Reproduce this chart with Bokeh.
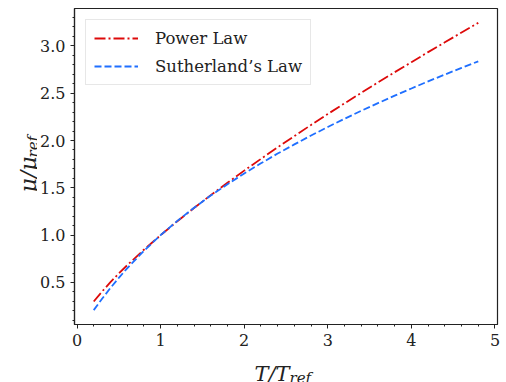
from bokeh.plotting import figure
from bokeh.layouts import column, row
from bokeh.models import (ColumnDataSource, Range1d, SingleIntervalTicker,
                          PrintfTickFormatter, Label, Legend, LegendItem)
from bokeh.embed import file_html
from bokeh.resources import INLINE

# ---- data ----
t_ratio = [0.2, 0.3, 0.4, 0.5, 0.6, 0.8, 1.0, 1.2, 1.4, 1.6, 1.8, 2.0, 2.2, 2.4,
           2.6, 2.8, 3.0, 3.2, 3.4, 3.6, 3.8, 4.0, 4.2, 4.4, 4.6, 4.8]
power_law = [0.299, 0.405, 0.503, 0.595, 0.682, 0.846, 1.000, 1.147, 1.287, 1.423,
             1.554, 1.682, 1.806, 1.928, 2.047, 2.165, 2.280, 2.393, 2.504, 2.614,
             2.722, 2.828, 2.934, 3.038, 3.141, 3.243]
sutherland = [0.208, 0.328, 0.442, 0.549, 0.650, 0.834, 1.000, 1.151, 1.289, 1.418,
              1.538, 1.652, 1.759, 1.862, 1.959, 2.053, 2.143, 2.230, 2.314, 2.395,
              2.474, 2.550, 2.625, 2.697, 2.768, 2.837]
series_names = ["Power Law", "Sutherland\u2019s Law"]
x_label = ("T/T", "ref")
y_label = ("\u03bc/\u03bc", "ref")

src = ColumnDataSource(dict(x=t_ratio, p=power_law, s=sutherland))

FONT = "DejaVu Serif"
INK = "#222222"

YLAB_W = 37
MAIN_W = 506 - YLAB_W
MAIN_H = 352
XLAB_H = 382 - MAIN_H

p = figure(width=MAIN_W, height=MAIN_H, output_backend="svg", toolbar_location=None,
           x_range=Range1d(-0.03, 5.03), y_range=Range1d(0.056, 3.395),
           min_border_left=36, min_border_right=9, min_border_top=8,
           min_border_bottom=28)
p.grid.visible = False
p.background_fill_color = "white"
p.border_fill_color = "white"
p.outline_line_color = INK
p.outline_line_width = 1.2

r1 = p.line("x", "p", source=src, line_color="#dd0a0a", line_width=1.8,
            line_dash="11 3 2 3")
r2 = p.line("x", "s", source=src, line_color="#1f6fff", line_width=1.8,
            line_dash="7 3")

for ax in (p.xaxis[0], p.yaxis[0]):
    ax.axis_line_color = INK
    ax.axis_line_width = 1.2
    ax.major_tick_line_color = INK
    ax.minor_tick_line_color = INK
    ax.major_tick_in = 0
    ax.major_tick_out = 4
    ax.minor_tick_in = 0
    ax.minor_tick_out = 2
    ax.major_label_text_font = FONT
    ax.major_label_text_font_size = "16px"
    ax.major_label_text_color = INK
    ax.major_label_standoff = 5

p.xaxis[0].ticker = SingleIntervalTicker(interval=1, num_minor_ticks=5)
p.yaxis[0].ticker = SingleIntervalTicker(interval=0.5, num_minor_ticks=5)
p.xaxis[0].formatter = PrintfTickFormatter(format="%d")
p.yaxis[0].formatter = PrintfTickFormatter(format="%.1f")

legend = Legend(items=[LegendItem(label=series_names[0], renderers=[r1]),
                       LegendItem(label=series_names[1], renderers=[r2])],
                location="top_left", margin=11, padding=8, spacing=8,
                glyph_width=44, glyph_height=20, label_height=20,
                label_standoff=17, label_text_font=FONT,
                label_text_font_size="16.5px", label_text_color=INK,
                border_line_color="#d0d0d0", border_line_width=1,
                background_fill_alpha=0.9)
p.add_layout(legend)


def blank(w, h):
    f = figure(width=w, height=h, output_backend="svg", toolbar_location=None,
               x_range=Range1d(0, w), y_range=Range1d(0, h),
               x_axis_type=None, y_axis_type=None, title=None,
               min_border=0, min_border_left=0, min_border_right=0,
               min_border_top=0, min_border_bottom=0)
    f.grid.visible = False
    f.outline_line_color = None
    f.background_fill_color = "white"
    f.border_fill_color = "white"
    return f


lab_kw = dict(text_font=FONT, text_font_style="italic", text_color=INK,
              text_baseline="alphabetic", text_align="left")

# y-axis label (rotated), coordinates in pixels of this small panel
py = blank(YLAB_W, MAIN_H)
py.add_layout(Label(x=28, y=MAIN_H - 205, text=y_label[0], text_font_size="22px",
                    angle=1.5708, **lab_kw))
py.add_layout(Label(x=32.5, y=MAIN_H - 166, text=y_label[1], text_font_size="15px",
                    angle=1.5708, **lab_kw))

# x-axis label
px = blank(506, XLAB_H)
px.add_layout(Label(x=254, y=XLAB_H - 21, text=x_label[0], text_font_size="21px",
                    **lab_kw))
px.add_layout(Label(x=289, y=XLAB_H - 25, text=x_label[1], text_font_size="15px",
                    **lab_kw))

layout = column(row(py, p, spacing=0), px, spacing=0)

open("out.html", "w").write(file_html(layout, INLINE))
